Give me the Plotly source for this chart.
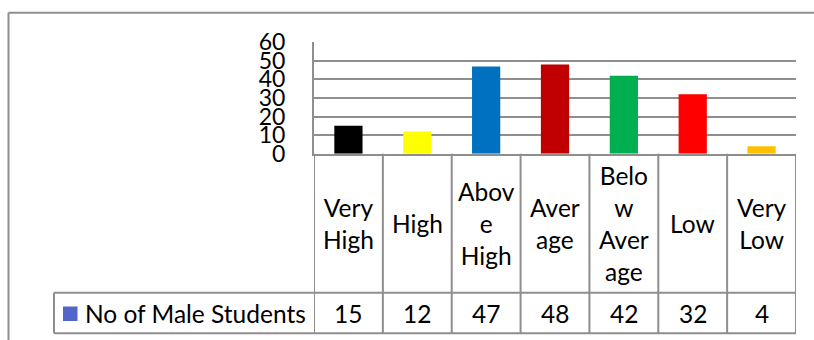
import plotly.graph_objects as go

categories = ["Very High", "High", "Above High", "Average", "Below Average", "Low", "Very Low"]
category_labels = ["Very<br>High", "High", "Abov<br>e<br>High", "Aver<br>age", "Belo<br>w<br>Aver<br>age", "Low", "Very<br>Low"]
male_students = [15, 12, 47, 48, 42, 32, 4]
bar_colors = ["#000000", "#FFFF00", "#0070C0", "#C00000", "#00B050", "#FF0000", "#FFC000"]
series_name = "No of Male Students"
y_ticks = [0, 10, 20, 30, 40, 50, 60]

W, H = 814, 340
FONT = "Lato"
GRID = "#8E8E8E"
LW = 2
FS = 24.5

def py(p):
    return (H - p) / H

def px(p):
    return p / W

y_zero, y_top = 153.7, 42.3
y_sep, y_bot = 292.7, 333.3
x_left, x_right = 314, 796
legend_left = 54

fig = go.Figure()
fig.add_trace(go.Bar(
    x=categories, y=male_students, marker=dict(color=bar_colors, line=dict(width=0)),
    name=series_name, showlegend=False, hoverinfo="x+y",
))

shapes = []
n = len(categories)
# outer chart border (top & left)
shapes.append(dict(type="line", xref="paper", yref="paper", x0=px(8.5), x1=1.0, y0=py(12.7), y1=py(12.7),
                   line=dict(color=GRID, width=LW)))
shapes.append(dict(type="line", xref="paper", yref="paper", x0=px(8.5), x1=px(8.5), y0=py(12.7), y1=0,
                   line=dict(color=GRID, width=LW)))
# vertical table lines at category boundaries
for k in range(n + 1):
    shapes.append(dict(type="line", xref="x", yref="paper", x0=k - 0.5, x1=k - 0.5, y0=py(y_zero), y1=py(y_bot),
                       line=dict(color=GRID, width=LW)))
# horizontal table lines
shapes.append(dict(type="line", xref="paper", yref="paper", x0=px(legend_left), x1=px(x_right), y0=py(y_sep), y1=py(y_sep),
                   line=dict(color=GRID, width=LW)))
shapes.append(dict(type="line", xref="paper", yref="paper", x0=px(legend_left), x1=px(x_right), y0=py(y_bot), y1=py(y_bot),
                   line=dict(color=GRID, width=LW)))
shapes.append(dict(type="line", xref="paper", yref="paper", x0=px(legend_left), x1=px(legend_left), y0=py(y_sep), y1=py(y_bot),
                   line=dict(color=GRID, width=LW)))
# legend key
shapes.append(dict(type="rect", xref="paper", yref="paper", x0=px(63), x1=px(77.5), y0=py(306.5), y1=py(321),
                   fillcolor="#5066C8", line=dict(width=0)))

annotations = []
for i, lab in enumerate(category_labels):
    annotations.append(dict(x=categories[i], xref="x", y=py((y_zero + y_sep) / 2), yref="paper",
                            text=lab, showarrow=False, font=dict(family=FONT, size=FS, color="#000000"),
                            xanchor="center", yanchor="middle", align="center"))
    annotations.append(dict(x=categories[i], xref="x", y=py((y_sep + y_bot) / 2), yref="paper",
                            text=str(male_students[i]), showarrow=False, font=dict(family=FONT, size=FS, color="#000000"),
                            xanchor="center", yanchor="middle"))
annotations.append(dict(x=px(83), xref="paper", y=py((y_sep + y_bot) / 2), yref="paper",
                        text=series_name, showarrow=False, font=dict(family=FONT, size=FS, color="#000000"),
                        xanchor="left", yanchor="middle"))

fig.update_layout(
    template="none",
    width=W, height=H,
    margin=dict(l=0, r=0, t=0, b=0, pad=0, autoexpand=False),
    paper_bgcolor="white", plot_bgcolor="white",
    bargap=0.59,
    shapes=shapes, annotations=annotations,
    xaxis=dict(domain=[px(x_left), px(x_right)], range=[-0.5, n - 0.5], showticklabels=False, ticks="",
               showgrid=False, showline=True, linecolor=GRID, linewidth=LW, zeroline=False, fixedrange=True,
               automargin=False),
    yaxis=dict(domain=[py(y_zero), py(y_top)], range=[0, 60], tickvals=y_ticks, ticks="",
               showgrid=True, gridcolor=GRID, gridwidth=LW, showline=True, linecolor=GRID, linewidth=LW,
               zeroline=False, tickfont=dict(family=FONT, size=23, color="#000000"),
               ticklabelstandoff=22, fixedrange=True, automargin=False),
    font=dict(family=FONT),
)

fig.write_html("out.html")
